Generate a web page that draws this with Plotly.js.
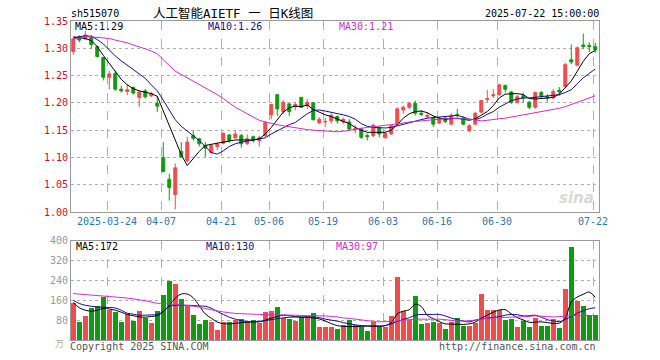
<!DOCTYPE html>
<html><head><meta charset="utf-8">
<script src="https://cdn.plot.ly/plotly-3.0.1.min.js"></script>
<style>html,body{margin:0;padding:0;background:#fff}#c{width:660px;height:360px}</style>
</head><body><div id="c"></div>
<script>
const dates = ['2025-03-14','2025-03-17','2025-03-18','2025-03-19','2025-03-20','2025-03-21','2025-03-24','2025-03-25','2025-03-26','2025-03-27','2025-03-28','2025-03-31','2025-04-01','2025-04-02','2025-04-03','2025-04-07','2025-04-08','2025-04-09','2025-04-10','2025-04-11','2025-04-14','2025-04-15','2025-04-16','2025-04-17','2025-04-18','2025-04-21','2025-04-22','2025-04-23','2025-04-24','2025-04-25','2025-04-28','2025-04-29','2025-04-30','2025-05-06','2025-05-07','2025-05-08','2025-05-09','2025-05-12','2025-05-13','2025-05-14','2025-05-15','2025-05-16','2025-05-19','2025-05-20','2025-05-21','2025-05-22','2025-05-23','2025-05-26','2025-05-27','2025-05-28','2025-05-29','2025-05-30','2025-06-03','2025-06-04','2025-06-05','2025-06-06','2025-06-09','2025-06-10','2025-06-11','2025-06-12','2025-06-13','2025-06-16','2025-06-17','2025-06-18','2025-06-19','2025-06-20','2025-06-23','2025-06-24','2025-06-25','2025-06-26','2025-06-27','2025-06-30','2025-07-01','2025-07-02','2025-07-03','2025-07-04','2025-07-07','2025-07-08','2025-07-09','2025-07-10','2025-07-11','2025-07-14','2025-07-15','2025-07-16','2025-07-17','2025-07-18','2025-07-21','2025-07-22'];

const open = [1.294,1.321,1.317,1.320,1.303,1.283,1.247,1.254,1.225,1.221,1.228,1.210,1.222,1.213,1.199,1.100,1.060,1.032,1.111,1.094,1.140,1.134,1.122,1.109,1.120,1.126,1.141,1.136,1.140,1.125,1.138,1.131,1.140,1.178,1.215,1.184,1.198,1.193,1.210,1.195,1.200,1.163,1.165,1.167,1.175,1.165,1.165,1.151,1.152,1.140,1.140,1.154,1.136,1.143,1.161,1.187,1.192,1.199,1.181,1.175,1.172,1.163,1.172,1.161,1.179,1.172,1.149,1.161,1.183,1.206,1.213,1.215,1.232,1.220,1.201,1.213,1.201,1.192,1.219,1.211,1.209,1.223,1.230,1.279,1.269,1.306,1.305,1.303];
const high = [1.319,1.324,1.332,1.324,1.305,1.284,1.259,1.259,1.231,1.234,1.230,1.222,1.225,1.220,1.213,1.128,1.070,1.089,1.128,1.138,1.149,1.136,1.128,1.123,1.128,1.146,1.143,1.150,1.143,1.142,1.140,1.140,1.167,1.198,1.216,1.205,1.200,1.201,1.211,1.207,1.201,1.174,1.172,1.181,1.177,1.173,1.170,1.159,1.155,1.144,1.162,1.157,1.147,1.160,1.192,1.195,1.202,1.204,1.187,1.183,1.175,1.174,1.175,1.181,1.189,1.175,1.161,1.184,1.205,1.224,1.225,1.235,1.233,1.222,1.215,1.219,1.204,1.221,1.222,1.216,1.225,1.229,1.273,1.307,1.303,1.327,1.311,1.310];
const low = [1.288,1.311,1.315,1.299,1.283,1.241,1.225,1.222,1.219,1.214,1.215,1.192,1.208,1.210,1.183,1.073,1.021,1.005,1.100,1.091,1.131,1.120,1.101,1.106,1.113,1.124,1.127,1.134,1.118,1.123,1.127,1.120,1.137,1.170,1.176,1.180,1.176,1.186,1.192,1.189,1.168,1.162,1.156,1.162,1.162,1.161,1.150,1.144,1.134,1.131,1.137,1.137,1.135,1.141,1.160,1.180,1.188,1.177,1.176,1.171,1.156,1.161,1.163,1.160,1.174,1.159,1.146,1.160,1.181,1.201,1.209,1.213,1.219,1.198,1.199,1.201,1.188,1.189,1.208,1.202,1.207,1.213,1.228,1.271,1.267,1.299,1.293,1.292];
const close = [1.317,1.315,1.324,1.307,1.285,1.247,1.253,1.225,1.222,1.224,1.218,1.220,1.211,1.217,1.194,1.074,1.045,1.081,1.101,1.128,1.135,1.125,1.117,1.122,1.124,1.144,1.131,1.143,1.125,1.134,1.131,1.136,1.164,1.197,1.189,1.201,1.184,1.197,1.192,1.201,1.169,1.170,1.166,1.177,1.167,1.170,1.152,1.153,1.137,1.138,1.159,1.143,1.144,1.158,1.189,1.192,1.199,1.181,1.179,1.177,1.161,1.171,1.166,1.177,1.177,1.161,1.158,1.181,1.204,1.208,1.215,1.233,1.225,1.201,1.211,1.209,1.192,1.219,1.213,1.209,1.221,1.220,1.270,1.275,1.301,1.303,1.303,1.297];

const ma5 = [1.321,1.319,1.318,1.314,1.303,1.287,1.272,1.257,1.243,1.233,1.226,1.222,1.219,1.217,1.212,1.186,1.157,1.131,1.105,1.085,1.099,1.111,1.122,1.124,1.125,1.128,1.130,1.132,1.132,1.132,1.132,1.134,1.143,1.155,1.170,1.183,1.191,1.194,1.193,1.196,1.188,1.183,1.178,1.175,1.170,1.166,1.162,1.155,1.150,1.146,1.146,1.146,1.146,1.150,1.160,1.172,1.180,1.184,1.185,1.182,1.176,1.172,1.170,1.171,1.172,1.170,1.168,1.171,1.177,1.184,1.195,1.209,1.216,1.217,1.217,1.215,1.208,1.207,1.208,1.208,1.210,1.216,1.228,1.240,1.258,1.276,1.290,1.296];
const ma10 = [1.319,1.321,1.323,1.322,1.316,1.308,1.297,1.286,1.277,1.269,1.262,1.254,1.245,1.233,1.222,1.205,1.186,1.169,1.157,1.148,1.140,1.131,1.120,1.109,1.106,1.112,1.120,1.125,1.128,1.130,1.131,1.133,1.136,1.143,1.149,1.155,1.160,1.164,1.172,1.180,1.186,1.187,1.185,1.183,1.181,1.178,1.175,1.170,1.162,1.157,1.155,1.154,1.154,1.155,1.158,1.160,1.163,1.166,1.169,1.172,1.173,1.174,1.176,1.177,1.177,1.174,1.170,1.169,1.173,1.179,1.184,1.192,1.198,1.204,1.207,1.209,1.209,1.210,1.211,1.212,1.213,1.215,1.219,1.224,1.235,1.246,1.254,1.262];
const ma30 = [1.317,1.319,1.321,1.321,1.320,1.319,1.318,1.315,1.313,1.310,1.306,1.303,1.299,1.295,1.290,1.279,1.268,1.258,1.252,1.246,1.240,1.234,1.228,1.222,1.215,1.208,1.200,1.192,1.186,1.180,1.175,1.168,1.165,1.162,1.160,1.158,1.156,1.154,1.153,1.151,1.150,1.149,1.148,1.147,1.147,1.148,1.150,1.152,1.154,1.155,1.156,1.158,1.159,1.160,1.161,1.163,1.165,1.166,1.167,1.168,1.169,1.170,1.171,1.172,1.171,1.171,1.170,1.169,1.167,1.168,1.170,1.171,1.172,1.174,1.176,1.178,1.180,1.182,1.183,1.185,1.187,1.190,1.193,1.197,1.201,1.205,1.209,1.213];

const volume = [150,73,97,127,137,173,120,113,73,105,77,116,89,69,116,180,237,224,164,137,100,64,80,71,40,71,71,80,83,73,80,67,111,116,133,89,84,77,93,96,109,53,53,53,44,60,80,60,53,36,73,53,53,97,253,116,80,176,64,69,73,69,44,73,89,57,57,67,184,120,120,120,80,84,53,76,53,87,57,57,84,49,204,373,156,136,100,100];
const vma5 = [151,130,120,116,120,127,125,120,112,103,98,93,92,95,98,114,140,168,185,185,170,138,105,88,72,66,65,67,70,72,73,73,80,88,95,100,98,94,92,91,89,85,76,66,58,55,54,54,55,56,55,54,58,70,105,116,122,144,135,100,86,74,65,64,63,63,65,72,88,100,112,121,122,105,90,81,71,72,73,70,67,68,88,153,173,184,193,172];
const vma10 = [160,147,140,136,133,132,131,129,120,108,104,100,100,101,103,115,135,140,140,140,139,137,136,128,115,103,92,84,78,74,73,75,78,82,86,89,92,93,93,93,93,90,84,80,76,70,65,61,58,57,57,57,58,65,75,82,90,100,103,103,103,103,97,88,82,76,73,80,85,88,91,94,100,103,102,97,98,100,92,82,77,74,82,95,108,118,126,130];
const vma30 = [187,185,183,181,179,177,175,173,171,169,166,162,158,153,148,147,145,143,141,139,136,132,127,122,117,113,110,107,106,105,104,103,102,102,101,101,100,100,99,98,98,97,97,95,93,89,87,84,81,78,75,73,74,75,76,79,82,84,84,84,84,84,82,79,77,76,78,80,84,87,89,90,91,92,93,94,95,97,96,94,93,94,97,98,99,100,99,97];

const tickDates = ['2025-03-24','2025-04-07','2025-04-21','2025-05-06','2025-05-19','2025-06-03','2025-06-16','2025-06-30','2025-07-22'];
const tickLabels = ['2025-03-24','04-07','04-21','05-06','05-19','06-03','06-16','06-30','07-22'];
const priceTicks = [1.00,1.05,1.10,1.15,1.20,1.25,1.30,1.35];
const volTicks = [80,160,240,320,400];

const RED = '#f24b4b', GREEN = '#0f9a0f', BLUE = '#10108c', MAG = '#cc2fcc';
const MONO = 'DejaVu Sans Mono, Noto Sans CJK SC, monospace';
const x = dates.map((d, i) => i);
const tickvals = tickDates.map(d => dates.indexOf(d) - 0.38);
const volColors = close.map((c, i) => c >= open[i] ? RED : GREEN);

const traces = [
  {type:'candlestick', x:x, open:open, high:high, low:low, close:close, xaxis:'x', yaxis:'y',
   increasing:{line:{color:RED,width:1}, fillcolor:RED},
   decreasing:{line:{color:GREEN,width:1}, fillcolor:GREEN},
   whiskerwidth:0, hoverinfo:'skip', showlegend:false},
  {type:'scatter', mode:'lines', x:x, y:ma5, line:{color:'#000',width:1}, xaxis:'x', yaxis:'y', hoverinfo:'skip'},
  {type:'scatter', mode:'lines', x:x, y:ma10, line:{color:BLUE,width:1}, xaxis:'x', yaxis:'y', hoverinfo:'skip'},
  {type:'scatter', mode:'lines', x:x, y:ma30, line:{color:MAG,width:1}, xaxis:'x', yaxis:'y', hoverinfo:'skip'},
  {type:'bar', x:x, y:volume, marker:{color:volColors, line:{width:0}}, width:0.76, xaxis:'x2', yaxis:'y2', hoverinfo:'skip'},
  {type:'scatter', mode:'lines', x:x, y:vma5, line:{color:'#000',width:1,shape:'spline'}, xaxis:'x2', yaxis:'y2', hoverinfo:'skip'},
  {type:'scatter', mode:'lines', x:x, y:vma10, line:{color:BLUE,width:1,shape:'spline'}, xaxis:'x2', yaxis:'y2', hoverinfo:'skip'},
  {type:'scatter', mode:'lines', x:x, y:vma30, line:{color:MAG,width:1,shape:'spline'}, xaxis:'x2', yaxis:'y2', hoverinfo:'skip'}
];

// pixel -> paper helpers (plot area: x 71..599, y 21..340)
const L = 71, R = 599, T = 21, B = 340;
const px = v => (v - L) / (R - L);
const py = v => (B - v) / (B - T);
function txt(t, xp, yp, color, anchor, size) {
  return {text:t, x:px(xp), y:py(yp), xref:'paper', yref:'paper', showarrow:false,
    xanchor:anchor || 'left', yanchor:'middle', font:{family:MONO, size:size || 10, color:color}};
}

const xr = [-0.38, 87.62];
const layout = {
  width:660, height:360, paper_bgcolor:'#fff', plot_bgcolor:'#fff',
  margin:{l:L, r:660-R, t:T, b:360-B},
  showlegend:false, bargap:0,
  xaxis:{domain:[0,1], range:xr, type:'linear', rangeslider:{visible:false}, anchor:'y',
    tickmode:'array', tickvals:tickvals, ticktext:tickLabels, ticks:'',
    tickfont:{family:MONO, size:10, color:'#2a78b0'},
    showgrid:true, gridcolor:'#b0b0b0', griddash:'dash', gridwidth:1,
    showline:true, linecolor:'#999', linewidth:1, mirror:true, zeroline:false},
  yaxis:{domain:[(B-212)/(B-T), 1], range:[1.00,1.35], tickmode:'array', tickvals:priceTicks,
    ticktext:priceTicks.map(v => v.toFixed(2)), ticks:'',
    tickfont:{family:MONO, size:10, color:'#c8102e'},
    showgrid:true, gridcolor:'#b0b0b0', griddash:'dot', gridwidth:1,
    showline:true, linecolor:'#999', linewidth:1, mirror:true, zeroline:false},
  xaxis2:{domain:[0,1], range:xr, type:'linear', anchor:'y2',
    tickmode:'array', tickvals:tickvals, showticklabels:false, ticks:'',
    showgrid:true, gridcolor:'#b0b0b0', griddash:'dash', gridwidth:1,
    showline:true, linecolor:'#999', linewidth:1, mirror:true, zeroline:false},
  yaxis2:{domain:[0, (B-240.7)/(B-T)], range:[0,400], tickmode:'array', tickvals:volTicks,
    ticktext:volTicks.map(String), ticks:'',
    tickfont:{family:MONO, size:10, color:'#999'},
    showgrid:true, gridcolor:'#b0b0b0', griddash:'dot', gridwidth:1,
    showline:true, linecolor:'#999', linewidth:1, mirror:true, zeroline:false},
  annotations:[
    txt('sh515070', 69, 13, '#000'),
    {text:'人工智能AIETF 一 日K线图', x:px(151), y:py(13), xref:'paper', yref:'paper', showarrow:false,
     xanchor:'left', yanchor:'middle', font:{family:'DejaVu Sans Mono, Noto Sans CJK SC', size:12.5, color:'#000'}},
    txt('2025-07-22 15:00:00', 601, 13, '#000', 'right'),
    txt('MA5:1.29', 73, 26.5, '#000'),
    txt('MA10:1.26', 206, 26.5, BLUE),
    txt('MA30:1.21', 337, 26.5, MAG),
    txt('MA5:172', 74, 246.5, '#000'),
    txt('MA10:130', 204, 246.5, BLUE),
    txt('MA30:97', 334, 246.5, MAG),
    txt('Copyright 2025 SINA.COM', 68, 346, '#555'),
    txt('http://finance.sina.com.cn', 598, 346, '#555', 'right'),
    {text:'万', x:px(66), y:py(343), xref:'paper', yref:'paper', showarrow:false, xanchor:'right', yanchor:'middle',
     font:{family:'Noto Sans CJK SC', size:9, color:'#aaa'}},
    {text:'<b><i>sina</i></b>', x:px(596), y:py(198), xref:'paper', yref:'paper', showarrow:false, xanchor:'right', yanchor:'middle',
     font:{family:'DejaVu Sans', size:15, color:'#d8d8d8'}}
  ]
};

Plotly.newPlot('c', traces, layout, {staticPlot:true, displayModeBar:false});
</script></body></html>
